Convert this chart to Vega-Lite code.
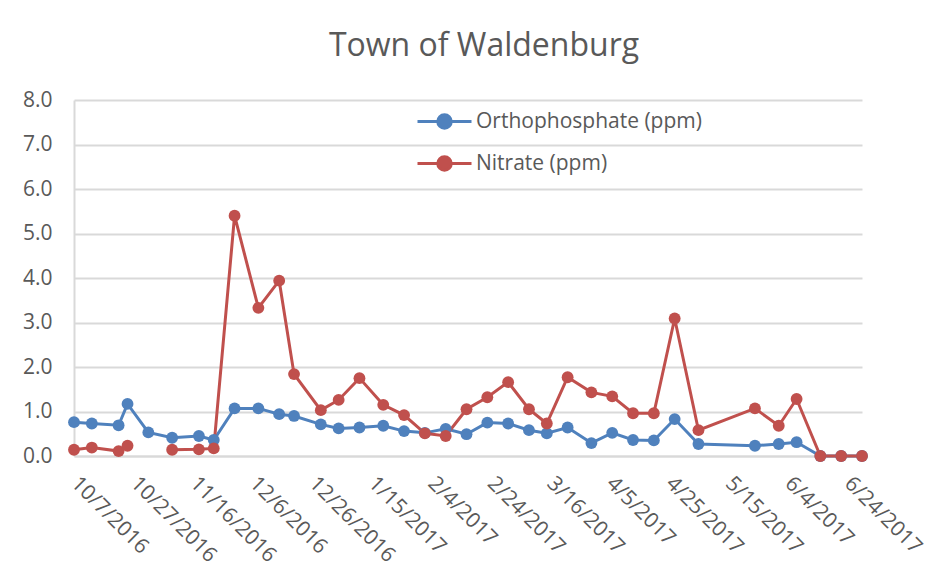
{
  "$schema": "https://vega.github.io/schema/vega-lite/v6.json",
  "autosize": {"type": "none"},
  "padding": {"left": 74, "top": 100, "right": 89, "bottom": 109},
  "width": 788,
  "height": 356,
  "background": "white",
  "title": {"text": "Town of Waldenburg", "font": "Open Sans", "fontSize": 32, "fontWeight": "normal", "color": "#595959", "anchor": "middle", "dx": 16, "offset": 1, "baseline": "alphabetic", "frame": "group"},
  "data": {"values": [
    {"date": "2016/10/07", "series": "Orthophosphate (ppm)", "value": 0.76},
    {"date": "2016/10/13", "series": "Orthophosphate (ppm)", "value": 0.73},
    {"date": "2016/10/22", "series": "Orthophosphate (ppm)", "value": 0.69},
    {"date": "2016/10/25", "series": "Orthophosphate (ppm)", "value": 1.17},
    {"date": "2016/11/01", "series": "Orthophosphate (ppm)", "value": 0.53},
    {"date": "2016/11/09", "series": "Orthophosphate (ppm)", "value": 0.41},
    {"date": "2016/11/18", "series": "Orthophosphate (ppm)", "value": 0.45},
    {"date": "2016/11/23", "series": "Orthophosphate (ppm)", "value": 0.36},
    {"date": "2016/11/30", "series": "Orthophosphate (ppm)", "value": 1.07},
    {"date": "2016/12/08", "series": "Orthophosphate (ppm)", "value": 1.07},
    {"date": "2016/12/15", "series": "Orthophosphate (ppm)", "value": 0.94},
    {"date": "2016/12/20", "series": "Orthophosphate (ppm)", "value": 0.90},
    {"date": "2016/12/29", "series": "Orthophosphate (ppm)", "value": 0.71},
    {"date": "2017/01/04", "series": "Orthophosphate (ppm)", "value": 0.62},
    {"date": "2017/01/11", "series": "Orthophosphate (ppm)", "value": 0.64},
    {"date": "2017/01/19", "series": "Orthophosphate (ppm)", "value": 0.68},
    {"date": "2017/01/26", "series": "Orthophosphate (ppm)", "value": 0.56},
    {"date": "2017/02/02", "series": "Orthophosphate (ppm)", "value": 0.52},
    {"date": "2017/02/09", "series": "Orthophosphate (ppm)", "value": 0.61},
    {"date": "2017/02/16", "series": "Orthophosphate (ppm)", "value": 0.49},
    {"date": "2017/02/23", "series": "Orthophosphate (ppm)", "value": 0.75},
    {"date": "2017/03/02", "series": "Orthophosphate (ppm)", "value": 0.73},
    {"date": "2017/03/09", "series": "Orthophosphate (ppm)", "value": 0.58},
    {"date": "2017/03/15", "series": "Orthophosphate (ppm)", "value": 0.51},
    {"date": "2017/03/22", "series": "Orthophosphate (ppm)", "value": 0.64},
    {"date": "2017/03/30", "series": "Orthophosphate (ppm)", "value": 0.29},
    {"date": "2017/04/06", "series": "Orthophosphate (ppm)", "value": 0.52},
    {"date": "2017/04/13", "series": "Orthophosphate (ppm)", "value": 0.36},
    {"date": "2017/04/20", "series": "Orthophosphate (ppm)", "value": 0.35},
    {"date": "2017/04/27", "series": "Orthophosphate (ppm)", "value": 0.83},
    {"date": "2017/05/05", "series": "Orthophosphate (ppm)", "value": 0.27},
    {"date": "2017/05/24", "series": "Orthophosphate (ppm)", "value": 0.23},
    {"date": "2017/06/01", "series": "Orthophosphate (ppm)", "value": 0.27},
    {"date": "2017/06/07", "series": "Orthophosphate (ppm)", "value": 0.31},
    {"date": "2017/06/15", "series": "Orthophosphate (ppm)", "value": 0},
    {"date": "2017/06/22", "series": "Orthophosphate (ppm)", "value": 0},
    {"date": "2017/06/29", "series": "Orthophosphate (ppm)", "value": 0},
    {"date": "2016/10/07", "series": "Nitrate (ppm)", "value": 0.14},
    {"date": "2016/10/13", "series": "Nitrate (ppm)", "value": 0.19},
    {"date": "2016/10/22", "series": "Nitrate (ppm)", "value": 0.11},
    {"date": "2016/10/25", "series": "Nitrate (ppm)", "value": 0.23},
    {"date": "2016/11/01", "series": "Nitrate (ppm)", "value": null},
    {"date": "2016/11/09", "series": "Nitrate (ppm)", "value": 0.14},
    {"date": "2016/11/18", "series": "Nitrate (ppm)", "value": 0.15},
    {"date": "2016/11/23", "series": "Nitrate (ppm)", "value": 0.17},
    {"date": "2016/11/30", "series": "Nitrate (ppm)", "value": 5.40},
    {"date": "2016/12/08", "series": "Nitrate (ppm)", "value": 3.33},
    {"date": "2016/12/15", "series": "Nitrate (ppm)", "value": 3.94},
    {"date": "2016/12/20", "series": "Nitrate (ppm)", "value": 1.84},
    {"date": "2016/12/29", "series": "Nitrate (ppm)", "value": 1.03},
    {"date": "2017/01/04", "series": "Nitrate (ppm)", "value": 1.26},
    {"date": "2017/01/11", "series": "Nitrate (ppm)", "value": 1.75},
    {"date": "2017/01/19", "series": "Nitrate (ppm)", "value": 1.15},
    {"date": "2017/01/26", "series": "Nitrate (ppm)", "value": 0.92},
    {"date": "2017/02/02", "series": "Nitrate (ppm)", "value": 0.51},
    {"date": "2017/02/09", "series": "Nitrate (ppm)", "value": 0.45},
    {"date": "2017/02/16", "series": "Nitrate (ppm)", "value": 1.05},
    {"date": "2017/02/23", "series": "Nitrate (ppm)", "value": 1.32},
    {"date": "2017/03/02", "series": "Nitrate (ppm)", "value": 1.66},
    {"date": "2017/03/09", "series": "Nitrate (ppm)", "value": 1.05},
    {"date": "2017/03/15", "series": "Nitrate (ppm)", "value": 0.73},
    {"date": "2017/03/22", "series": "Nitrate (ppm)", "value": 1.77},
    {"date": "2017/03/30", "series": "Nitrate (ppm)", "value": 1.43},
    {"date": "2017/04/06", "series": "Nitrate (ppm)", "value": 1.34},
    {"date": "2017/04/13", "series": "Nitrate (ppm)", "value": 0.96},
    {"date": "2017/04/20", "series": "Nitrate (ppm)", "value": 0.96},
    {"date": "2017/04/27", "series": "Nitrate (ppm)", "value": 3.09},
    {"date": "2017/05/05", "series": "Nitrate (ppm)", "value": 0.58},
    {"date": "2017/05/24", "series": "Nitrate (ppm)", "value": 1.07},
    {"date": "2017/06/01", "series": "Nitrate (ppm)", "value": 0.68},
    {"date": "2017/06/07", "series": "Nitrate (ppm)", "value": 1.28},
    {"date": "2017/06/15", "series": "Nitrate (ppm)", "value": 0},
    {"date": "2017/06/22", "series": "Nitrate (ppm)", "value": 0},
    {"date": "2017/06/29", "series": "Nitrate (ppm)", "value": 0}
  ]},
  "mark": {"type": "line", "strokeWidth": 3, "invalid": "break-paths-show-domains", "clip": false, "point": {"filled": true, "size": 140, "opacity": 1}},
  "encoding": {
    "x": {
      "field": "date", "type": "temporal",
      "scale": {"domain": [{"year": 2016, "month": 10, "date": 7}, {"year": 2017, "month": 6, "date": 29}]},
      "axis": {
        "title": null,
        "format": "%-m/%-d/%Y",
        "values": [
          {"year": 2016, "month": 10, "date": 7},
          {"year": 2016, "month": 10, "date": 27},
          {"year": 2016, "month": 11, "date": 16},
          {"year": 2016, "month": 12, "date": 6},
          {"year": 2016, "month": 12, "date": 26},
          {"year": 2017, "month": 1, "date": 15},
          {"year": 2017, "month": 2, "date": 4},
          {"year": 2017, "month": 2, "date": 24},
          {"year": 2017, "month": 3, "date": 16},
          {"year": 2017, "month": 4, "date": 5},
          {"year": 2017, "month": 4, "date": 25},
          {"year": 2017, "month": 5, "date": 15},
          {"year": 2017, "month": 6, "date": 4},
          {"year": 2017, "month": 6, "date": 24}
        ],
        "labelAngle": 45,
        "labelAlign": "left",
        "labelBaseline": "middle",
        "labelPadding": 24,
        "grid": false,
        "ticks": false,
        "labelOverlap": false,
        "labelBound": false,
        "labelFlush": false
      }
    },
    "y": {
      "field": "value", "type": "quantitative",
      "scale": {"domain": [0, 8], "nice": false},
      "axis": {"title": null, "values": [0, 1, 2, 3, 4, 5, 6, 7, 8], "format": ".1f", "grid": true, "ticks": false, "labelPadding": 22}
    },
    "color": {
      "field": "series", "type": "nominal",
      "scale": {"domain": ["Orthophosphate (ppm)", "Nitrate (ppm)"], "range": ["#4F81BD", "#C0504D"]},
      "legend": {
        "title": null,
        "orient": "none",
        "legendX": 342,
        "legendY": -7,
        "symbolType": "M-1,0H1M-0.25,0A0.25,0.25,0,1,0,0.25,0A0.25,0.25,0,1,0,-0.25,0Z",
        "symbolSize": 2916,
        "symbolStrokeWidth": 3,
        "labelOffset": 3,
        "labelLimit": 0,
        "rowPadding": -2,
        "encode": {"symbols": {"update": {"fill": {"scale": "color", "field": "value"}, "stroke": {"scale": "color", "field": "value"}, "opacity": {"value": 1}}}}
      }
    }
  },
  "config": {
    "font": "Open Sans",
    "view": {"stroke": null},
    "axis": {
      "labelFont": "Open Sans",
      "labelFontSize": 21,
      "labelColor": "#595959",
      "domainColor": "#d9d9d9",
      "domainWidth": 2,
      "gridColor": "#d9d9d9",
      "gridWidth": 2
    },
    "legend": {"labelFont": "Open Sans", "labelFontSize": 21, "labelColor": "#595959"}
  }
}
